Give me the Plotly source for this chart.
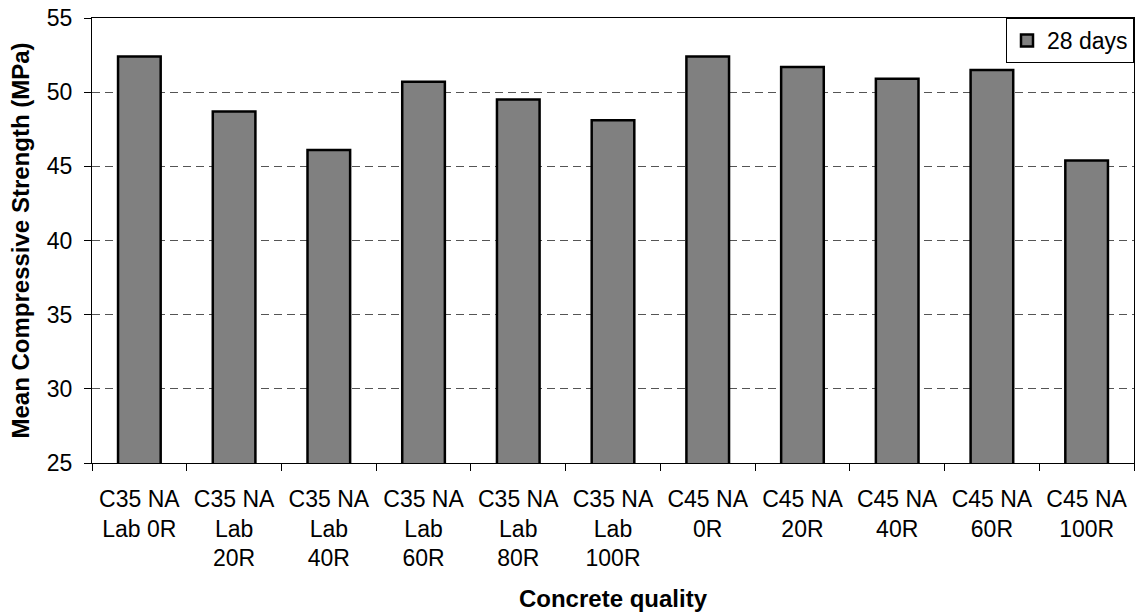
import plotly.graph_objects as go

categories = ["C35 NA<br>Lab 0R", "C35 NA<br>Lab<br>20R", "C35 NA<br>Lab<br>40R",
              "C35 NA<br>Lab<br>60R", "C35 NA<br>Lab<br>80R", "C35 NA<br>Lab<br>100R",
              "C45 NA<br>0R", "C45 NA<br>20R", "C45 NA<br>40R", "C45 NA<br>60R",
              "C45 NA<br>100R"]
strength_28d = [52.4, 48.7, 46.1, 50.7, 49.5, 48.1, 52.4, 51.7, 50.9, 51.5, 45.4]
y_ticks = [25, 30, 35, 40, 45, 50, 55]

FONT = "Arial, Liberation Sans, sans-serif"

fig = go.Figure()
fig.add_trace(go.Bar(
    x=categories, y=strength_28d, name="28 days",
    marker=dict(color="#808080", line=dict(color="black", width=2.5)),
    width=0.45,
))

fig.update_layout(
    width=1137, height=612,
    margin=dict(l=92, r=3, t=18, b=149),
    plot_bgcolor="white", paper_bgcolor="white",
    font=dict(family=FONT, size=23, color="black"),
    showlegend=True,
    legend=dict(x=1, y=1, xanchor="right", yanchor="top",
                bordercolor="black", borderwidth=1, bgcolor="white",
                font=dict(size=23), itemwidth=30, tracegroupgap=0),
    bargap=0.55,
)
fig.update_xaxes(
    showline=True, linecolor="black", linewidth=1, mirror=True,
    ticks="outside", ticklen=7, tickcolor="black", tickson="boundaries",
    tickfont=dict(size=23), ticklabelstandoff=15, automargin=False,
    title=dict(text="<b>Concrete quality</b>", font=dict(size=24), standoff=24),
    showgrid=False,
)
fig.update_yaxes(
    range=[25, 55], tickvals=y_ticks,
    showline=True, linecolor="black", linewidth=1, mirror=True,
    ticks="outside", ticklen=7, tickcolor="black",
    tickfont=dict(size=23), ticklabelstandoff=7, automargin=False,
    showgrid=True, gridcolor="#555555", griddash="8px,5px", gridwidth=1,
    title=dict(text="<b>Mean Compressive Strength (MPa)</b>", font=dict(size=24), standoff=10),
    zeroline=False,
)

fig.write_html("out.html", config={"displayModeBar": False},
               post_script="document.body.style.margin='0';")
